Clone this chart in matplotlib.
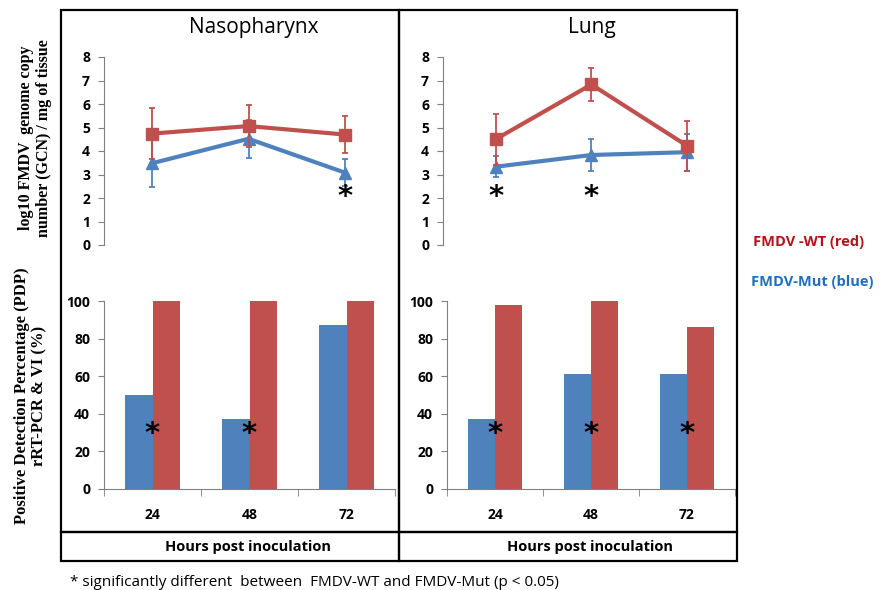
import matplotlib
matplotlib.use("Agg")
import matplotlib.pyplot as plt
from matplotlib.patches import Rectangle

# data
hours = ["24", "48", "72"]
pos = [1, 2, 3]

naso_wt = [4.74, 5.06, 4.70]
naso_wt_err = [1.08, 0.90, 0.77]
naso_mut = [3.48, 4.52, 3.08]
naso_mut_err = [1.02, 0.82, 0.58]

lung_wt = [4.50, 6.83, 4.22]
lung_wt_err = [1.08, 0.72, 1.05]
lung_mut = [3.33, 3.83, 3.95]
lung_mut_err = [0.45, 0.70, 0.78]

naso_pdp_mut = [50, 37.5, 87.5]
naso_pdp_wt = [100, 100, 100]
lung_pdp_mut = [37.5, 61, 61]
lung_pdp_wt = [98, 100, 86]

# significance markers: (x position, y value)
naso_line_sig = [(3, 2.05)]
lung_line_sig = [(1, 2.05), (2, 2.05)]
naso_bar_sig = [1, 2]
lung_bar_sig = [1, 2, 3]

RED = "#C0504D"
BLUE = "#4F81BD"
TICKFONT = "Open Sans"

W, H = 885, 590
fig = plt.figure(figsize=(W / 100, H / 100), dpi=100)


def fax(left, top, right, bottom):
    # pixel box -> figure axes
    return fig.add_axes([left / W, 1 - bottom / H, (right - left) / W, (bottom - top) / H])


def style_ticks(ax):
    for lab in ax.get_yticklabels() + ax.get_xticklabels():
        lab.set_fontfamily(TICKFONT)
        lab.set_fontweight("bold")
        lab.set_fontsize(10)


def line_panel(ax, wt, wt_err, mut, mut_err, sig, xlim):
    ax.errorbar(pos, mut, yerr=mut_err, color=BLUE, lw=3, marker="^", ms=9,
                capsize=2.5, elinewidth=1.3, capthick=1.3, zorder=3)
    ax.errorbar(pos, wt, yerr=wt_err, color=RED, lw=3, marker="s", ms=8,
                capsize=2.5, elinewidth=1.3, capthick=1.3, zorder=4)
    for x, y in sig:
        ax.text(x, y, "*", ha="center", va="center", fontsize=21, fontweight="bold")
    ax.set_ylim(0, 8)
    ax.set_xlim(*xlim)
    ax.set_yticks(range(0, 9))
    ax.set_xticks([])
    for s in ["top", "right", "bottom"]:
        ax.spines[s].set_visible(False)
    ax.spines["left"].set_color("#808080")
    ax.tick_params(axis="y", direction="out", length=4, color="#808080", pad=6)
    ax.patch.set_alpha(0)
    style_ticks(ax)


def bar_panel(ax, mut, wt, sig):
    w = 0.285
    ax.bar([p - w / 2 for p in pos], mut, width=w, color=BLUE, zorder=2)
    ax.bar([p + w / 2 for p in pos], wt, width=w, color=RED, zorder=2)
    for x in sig:
        ax.text(x, 29, "*", ha="center", va="center", fontsize=21, fontweight="bold", zorder=3)
    ax.set_ylim(0, 100)
    ax.set_xlim(0.5, 3.5)
    ax.set_yticks(range(0, 101, 20))
    ax.set_xticks(pos)
    ax.set_xticklabels(hours)
    ax.set_xticks([0.5, 1.5, 2.5, 3.5], minor=True)
    ax.tick_params(axis="x", which="major", length=0, pad=14)
    ax.tick_params(axis="x", which="minor", length=5, direction="out", color="#808080")
    for s in ["top", "right"]:
        ax.spines[s].set_visible(False)
    ax.spines["left"].set_color("#808080")
    ax.spines["bottom"].set_color("#808080")
    ax.tick_params(axis="y", direction="out", length=4, color="#808080", pad=6)
    ax.patch.set_alpha(0)
    style_ticks(ax)


ax1 = fax(104, 57, 393, 245)
line_panel(ax1, naso_wt, naso_wt_err, naso_mut, naso_mut_err, naso_line_sig, (0.5, 3.5))
ax2 = fax(443, 57, 735, 245)
line_panel(ax2, lung_wt, lung_wt_err, lung_mut, lung_mut_err, lung_line_sig, (0.45, 3.5))
ax3 = fax(104, 301, 395, 489)
bar_panel(ax3, naso_pdp_mut, naso_pdp_wt, naso_bar_sig)
ax4 = fax(447, 301, 735, 489)
bar_panel(ax4, lung_pdp_mut, lung_pdp_wt, lung_bar_sig)

# frame boxes
def box(l, t, r, b):
    fig.patches.append(Rectangle((l / W, 1 - b / H), (r - l) / W, (b - t) / H,
                                 transform=fig.transFigure, fill=False,
                                 edgecolor="black", lw=1.6, zorder=10))

box(61, 10, 399, 532)
box(399, 10, 737, 532)
box(61, 532, 399, 561)
box(399, 532, 737, 561)

fig.text(254 / W, 1 - 28 / H, "Nasopharynx", ha="center", va="center",
         fontsize=15, fontfamily="Open Sans")
fig.text(592 / W, 1 - 28 / H, "Lung", ha="center", va="center",
         fontsize=15, fontfamily="Open Sans")

for xc in (248, 590):
    fig.text(xc / W, 1 - 547 / H, "Hours post inoculation", ha="center", va="center",
             fontsize=10.5, fontweight="bold", fontfamily=TICKFONT)

fig.text(35 / W, 1 - 138 / H, "log10 FMDV  genome copy\nnumber (GCN) / mg of tissue",
         rotation=90, ha="center", va="center", fontsize=11.5, fontweight="bold",
         fontfamily="Liberation Serif", linespacing=1.15)
fig.text(31 / W, 1 - 396 / H, "Positive Detection Percentage (PDP)\nrRT-PCR & VI (%)",
         rotation=90, ha="center", va="center", fontsize=12, fontweight="bold",
         fontfamily="Liberation Serif", linespacing=1.1)

fig.text(753 / W, 1 - 242 / H, "FMDV -WT (red)", ha="left", va="center",
         fontsize=10.5, fontweight="bold", color="#B5121B", fontfamily=TICKFONT)
fig.text(751 / W, 1 - 282 / H, "FMDV-Mut (blue)", ha="left", va="center",
         fontsize=10.5, fontweight="bold", color="#1F6FC0", fontfamily=TICKFONT)

fig.text(70 / W, 1 - 583 / H,
         "* significantly different  between  FMDV-WT and FMDV-Mut (p < 0.05)",
         ha="left", va="center", fontsize=11, fontfamily=TICKFONT)

fig.savefig("out.png", dpi=100)
